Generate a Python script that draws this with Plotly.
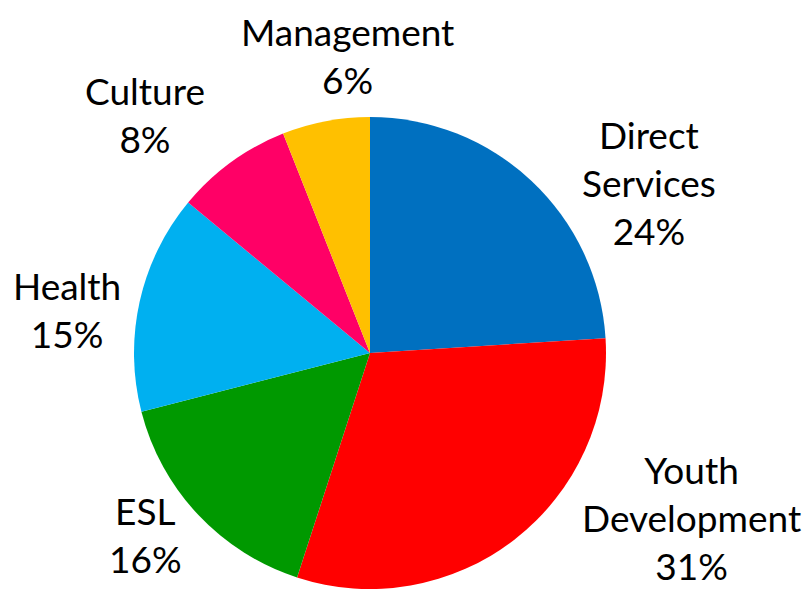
import plotly.graph_objects as go

categories = ["Direct Services", "Youth Development", "ESL", "Health", "Culture", "Management"]
label_text = ["Direct<br>Services", "Youth<br>Development", "ESL", "Health", "Culture", "Management"]
values = [24, 31, 16, 15, 8, 6]
colors = ["#0070C0", "#FF0000", "#009900", "#00B0F0", "#FF0066", "#FFC000"]

PAGE_MARGIN = 8  # default body margin of the html page
W, H = 811 - 2 * PAGE_MARGIN, 597 - 2 * PAGE_MARGIN

# pie centre/radius in page pixels
pcx, pcy, r = 370, 353, 236
cx, cy = pcx - PAGE_MARGIN, pcy - PAGE_MARGIN

fig = go.Figure(go.Pie(
    labels=categories,
    values=values,
    sort=False,
    direction="clockwise",
    rotation=0,
    marker=dict(colors=colors, line=dict(width=0)),
    textinfo="none",
    hoverinfo="none",
    showlegend=False,
    domain=dict(x=[(cx - r) / W, (cx + r) / W], y=[(H - cy - r) / H, (H - cy + r) / H]),
))

# label block centres (page pixels)
label_pos = [(649, 185), (691, 520), (145, 537), (67, 312), (145, 118), (347, 59)]
total = sum(values)
for txt, v, (px, py) in zip(label_text, values, label_pos):
    fx, fy = px - PAGE_MARGIN, py - PAGE_MARGIN - 3
    fig.add_annotation(
        x=fx / W, y=1 - fy / H, xref="paper", yref="paper",
        text=f"{txt}<br>{round(100 * v / total)}%",
        showarrow=False, xanchor="center", yanchor="middle",
        font=dict(family="Lato, Open Sans, sans-serif", size=37, color="#000000"),
    )

fig.update_layout(
    width=W, height=H,
    margin=dict(l=0, r=0, t=0, b=0),
    paper_bgcolor="white", plot_bgcolor="white",
)

fig.write_html("out.html")
